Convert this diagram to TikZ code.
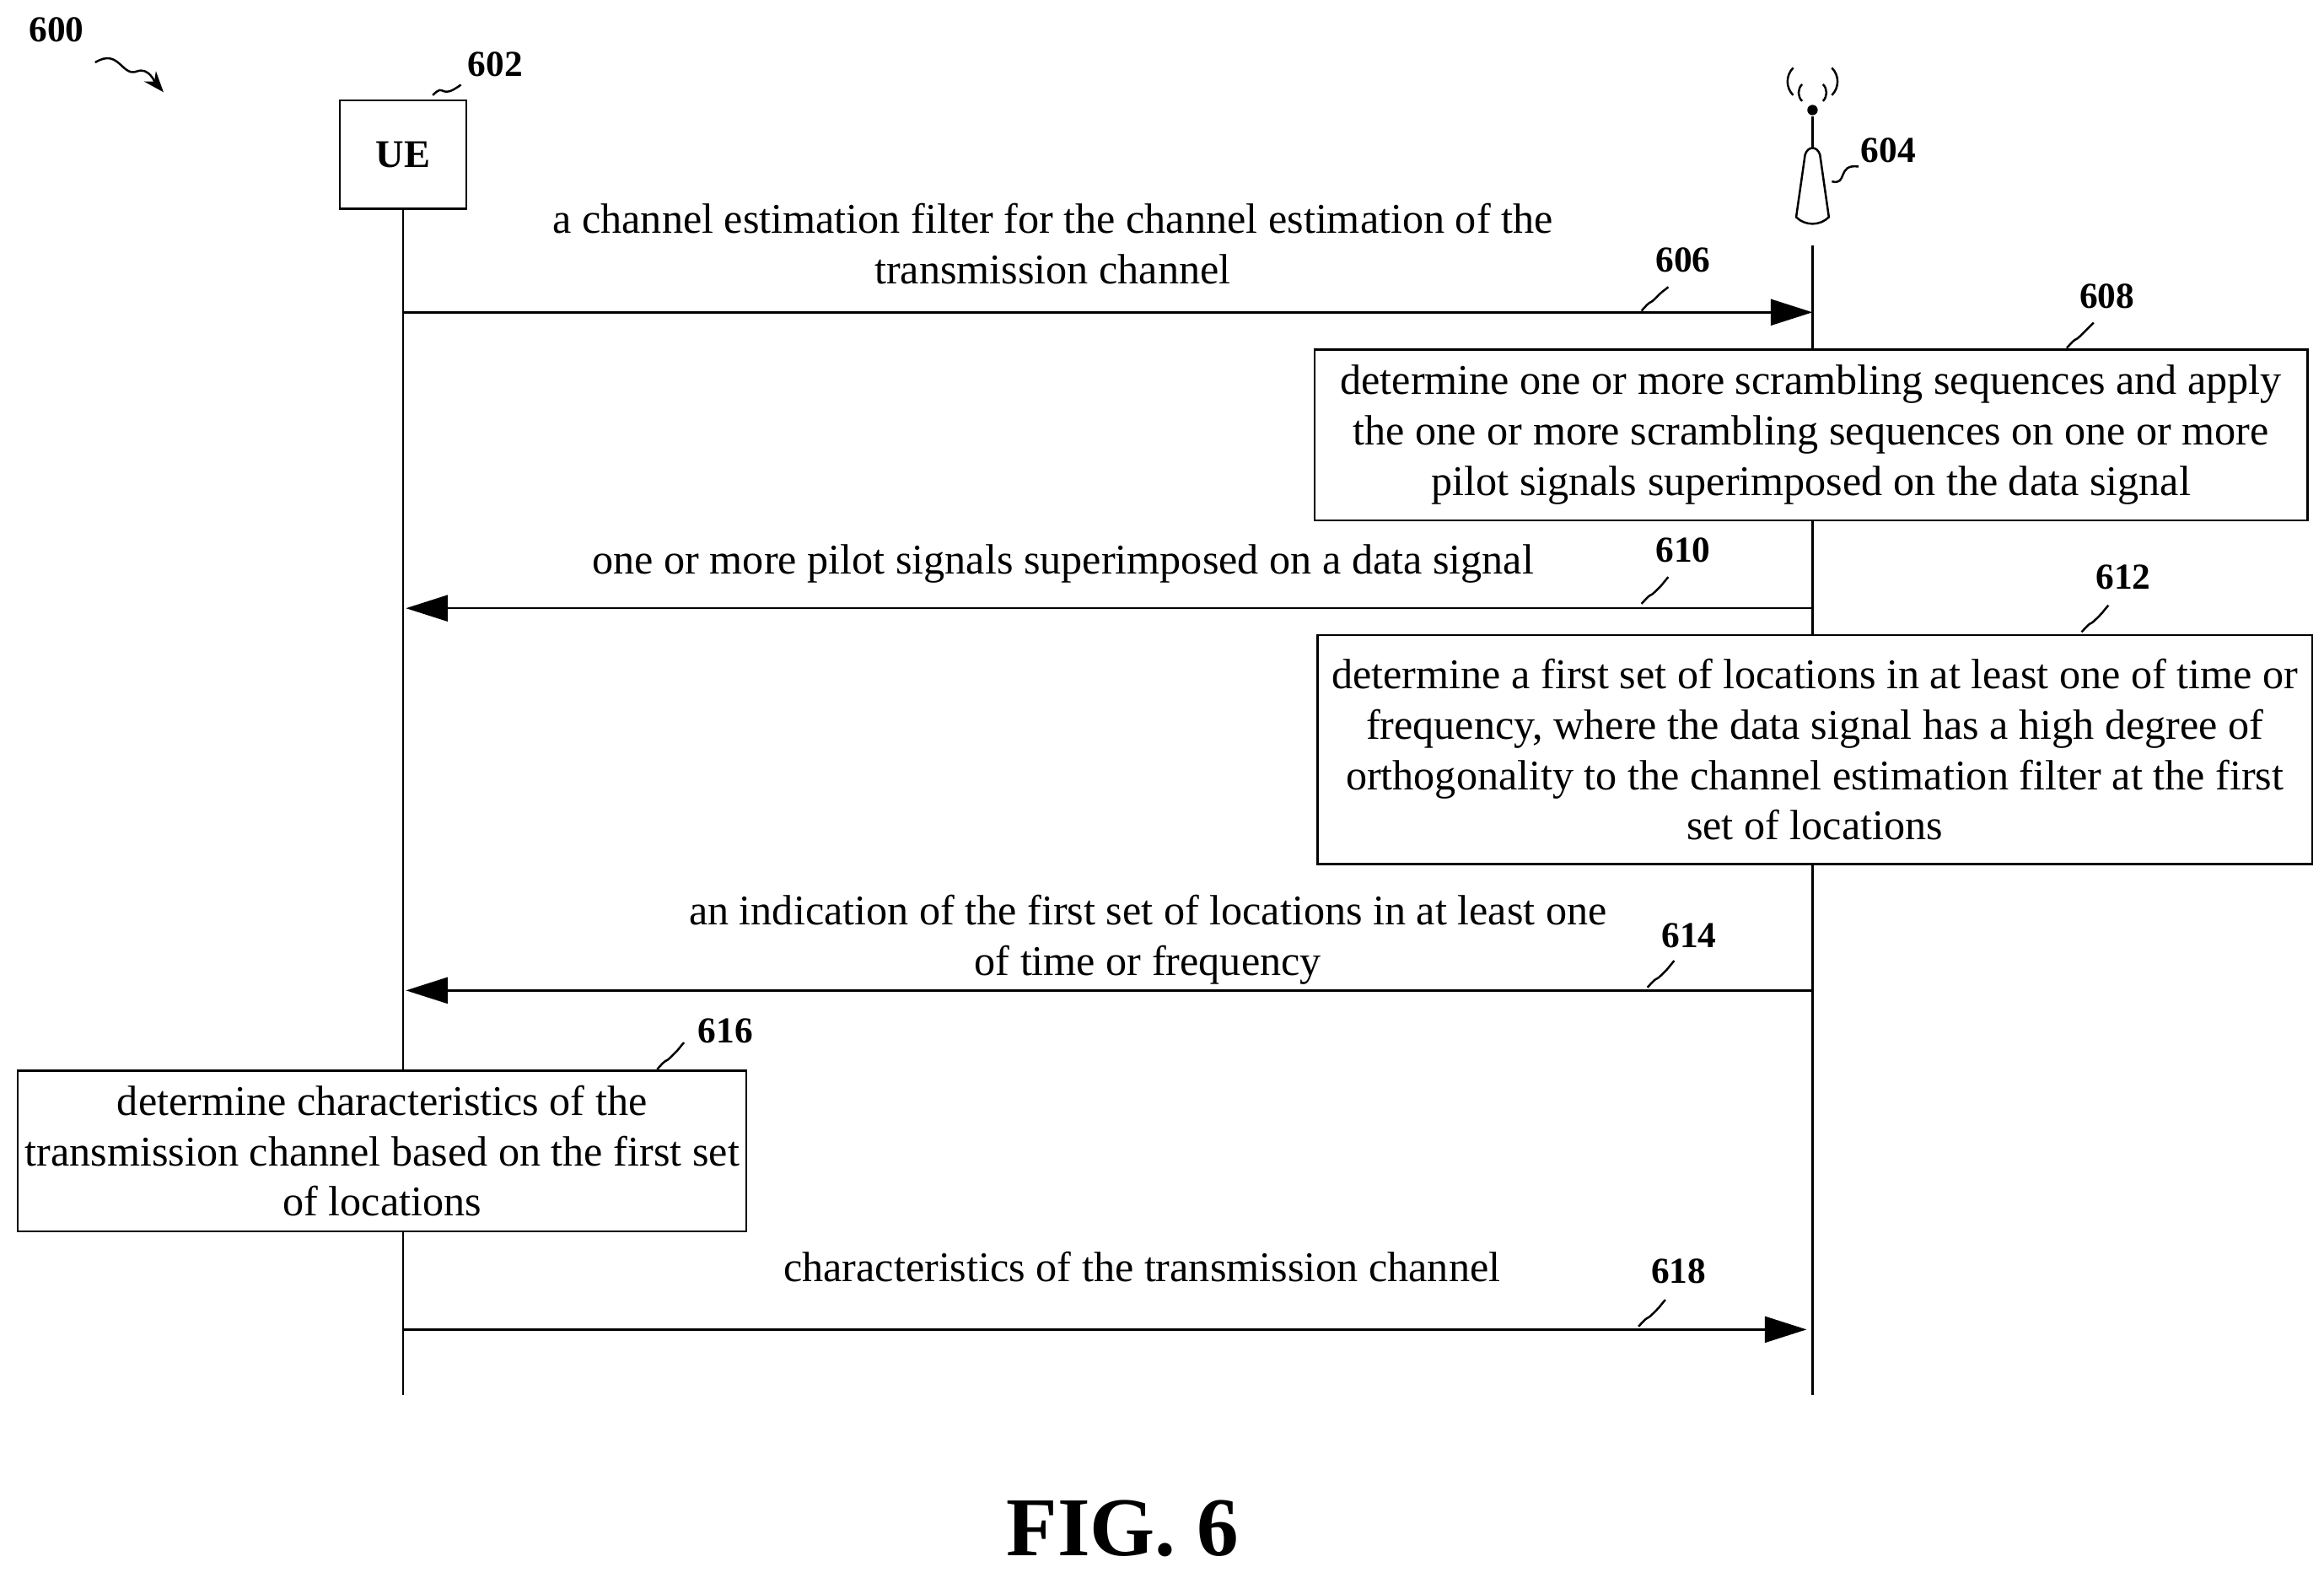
\documentclass[tikz,border=0pt]{standalone}
\usepackage{fontspec}
\setmainfont{Liberation Serif}
\usetikzlibrary{arrows.meta}
\begin{document}
\begin{tikzpicture}[x=0.02cm,y=-0.02cm,
		msg/.style={-{Triangle[length=16pt,width=10pt]}, thick},
		life/.style={thick},
		box/.style={draw, thick, fill=white, align=center, inner sep=2pt, font=\fontsize{16.2}{19.3}\selectfont},
		lbl/.style={align=center, font=\fontsize{16.2}{19.3}\selectfont},
		ref/.style={font=\fontsize{14}{16}\selectfont\bfseries},
		squig/.style={thick}
		]
		\useasboundingbox (0,0) rectangle (1563,1061);
		
		% Entities
		\node[draw, thick, minimum width=1.7cm, minimum height=1.46cm, font=\fontsize{15}{18}\selectfont\bfseries] (ue) at (271,104) {UE};
		\coordinate (ueend) at (271,938);
		\coordinate (bstop) at (1219,165);
		\coordinate (bsend) at (1219,938);
		\draw[life] (ue.south) -- (ueend);
		\draw[life] (bstop) -- (bsend);
		
		% Antenna
		\draw[thick] (1208,146) -- (1214,104) .. controls (1216,98) and (1222,98) .. (1224,104) -- (1230,146) .. controls (1224,152) and (1214,152) .. cycle;
		\draw[thick] (1219,100) -- (1219,78);
		\fill (1219,74) circle (3.5);
		\draw[thick] (1212,68) arc (135:225:8);
		\draw[thick] (1226,68) arc (45:-45:8);
		\draw[thick] (1206,64) arc (135:225:13);
		\draw[thick] (1232,64) arc (45:-45:13);
		
		% Reference numerals
		\node[ref] (n600) at (38,20) {600};
		\node[ref] (n602) at (333,43) {602};
		\node[ref] (n604) at (1270,101) {604};
		\draw[squig, -{Stealth[length=8pt]}] (64,42) .. controls (80,32) and (82,52) .. (92,48) .. controls (100,45) and (104,55) .. (110,62);
		\draw[squig] (291,64) .. controls (300,55) and (295,68) .. (310,57);
		\draw[squig] (1232,122) .. controls (1243,125) and (1235,110) .. (1250,112);
		
		% 606
		\node[lbl] (l606) at (708,164) {a channel estimation filter for the channel estimation of the\\transmission channel};
		\coordinate (m606) at (1219,210);
		\draw[msg] (271,210) -- (m606);
		\node[ref] (n606) at (1132,175) {606};
		\draw[squig] (1104,209) .. controls (1112,200) and (1108,206) .. (1114,200) .. controls (1120,194) and (1116,198) .. (1122,193);
		
		% 608
		\node[box, minimum width=13.36cm, minimum height=2.3cm] (b608) at (1218,292.5) {determine one or more scrambling sequences and apply\\the one or more scrambling sequences on one or more\\pilot signals superimposed on the data signal};
		\node[ref] (n608) at (1417,199) {608};
		\draw[squig] (1390,234) .. controls (1398,225) and (1394,231) .. (1400,225) .. controls (1406,219) and (1402,223) .. (1408,217);
		
		% 610
		\node[lbl] (l610) at (715,379) {one or more pilot signals superimposed on a data signal};
		\coordinate (s610) at (1219,409);
		\coordinate (e610) at (273,409);
		\draw[msg] (s610) -- (e610);
		\node[ref] (n610) at (1132,370) {610};
		\draw[squig] (1104,406) .. controls (1112,397) and (1108,403) .. (1114,397) .. controls (1120,391) and (1116,395) .. (1122,388);
		
		% 612
		\node[box, minimum width=13.38cm, minimum height=3.08cm] (b612) at (1220.5,504) {determine a first set of locations in at least one of time or\\frequency, where the data signal has a high degree of\\orthogonality to the channel estimation filter at the first\\set of locations};
		\node[ref] (n612) at (1428,388) {612};
		\draw[squig] (1400,425) .. controls (1408,416) and (1404,422) .. (1410,416) .. controls (1416,410) and (1412,414) .. (1418,407);
		
		% 614
		\node[lbl] (l614) at (772,632) {an indication of the first set of locations in at least one\\of time or frequency};
		\coordinate (s614) at (1219,666);
		\coordinate (e614) at (273,666);
		\draw[msg] (s614) -- (e614);
		\node[ref] (n614) at (1136,629) {614};
		\draw[squig] (1108,664) .. controls (1116,655) and (1112,661) .. (1118,655) .. controls (1124,649) and (1120,653) .. (1126,646);
		
		% 616
		\node[box, minimum width=9.8cm, minimum height=2.16cm] (b616) at (257,774) {determine characteristics of the\\transmission channel based on the first set\\of locations};
		\node[ref] (n616) at (488,693) {616};
		\draw[squig] (442,719) .. controls (450,710) and (446,716) .. (452,710) .. controls (458,704) and (454,708) .. (460,701);
		
		% 618
		\node[lbl] (l618) at (768,852) {characteristics of the transmission channel};
		\coordinate (m618) at (1215,894);
		\draw[msg] (271,894) -- (m618);
		\node[ref] (n618) at (1129,855) {618};
		\draw[squig] (1102,892) .. controls (1110,883) and (1106,889) .. (1112,883) .. controls (1118,877) and (1114,881) .. (1120,874);
		
		% Caption
		\node[font=\fontsize{32}{38}\selectfont\bfseries] (fig) at (755,1028) {FIG. 6};
		
	\end{tikzpicture}
\end{document}
